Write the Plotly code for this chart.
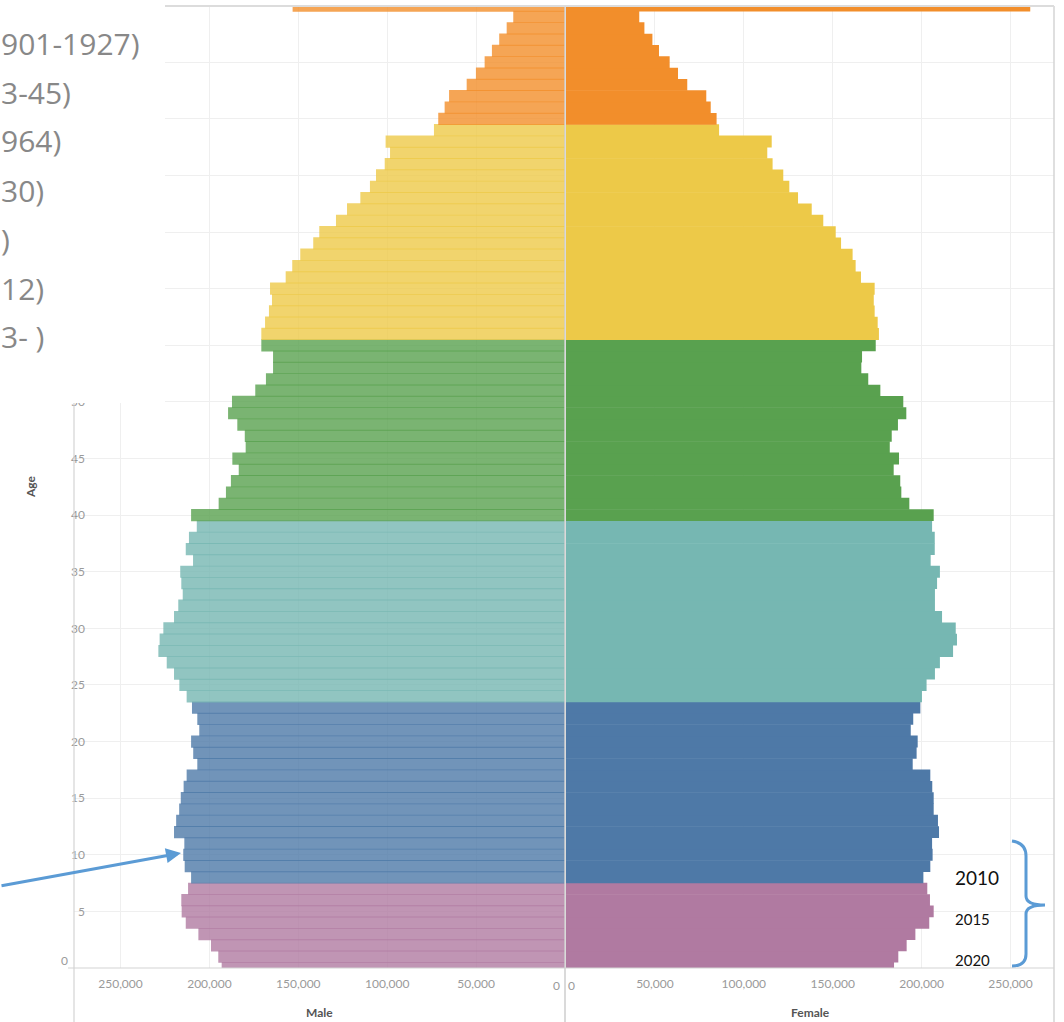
import plotly.graph_objects as go

W, H = 1064, 1022

# ---------------- data ----------------
data_year = 2020
ages = list(range(0, 86))          # 85 = "85+"

male = [193100, 195000, 199100, 206200, 213300, 215600, 215800, 212000, 210300, 213900,
        214700, 214100, 219900, 218700, 217000, 216100, 214500, 212800, 206800, 209100,
        210300, 205700, 206800, 209800, 212800, 216900, 219900, 224000, 228700, 228000,
        225900, 219900, 217500, 215000, 215800, 216400, 209200, 213300, 211500, 207100,
        210300, 194800, 190700, 187900, 183500, 187100, 179600, 180100, 184300, 189500,
        187300, 174200, 168200, 164200, 164200, 170800, 170800, 168700, 166500, 164800,
        165900, 157100, 153400, 148900, 141600, 138200, 128800, 122600, 115100, 109700,
        106300, 101400, 98400, 100900, 73700, 71300, 67700, 65200, 55300, 50100,
        45200, 41100, 37000, 32800, 29100, 153200]

female = [184500, 186900, 191600, 196500, 204300, 206800, 204700, 203200, 201000, 204900,
          206200, 205900, 209800, 209200, 206800, 206800, 206000, 204900, 195000, 197200,
          197800, 193900, 195300, 199300, 200200, 202800, 207500, 210300, 217700, 219900,
          219200, 211500, 207500, 207500, 208700, 210300, 205100, 207400, 207400, 205900,
          206800, 193100, 188600, 188000, 184300, 187300, 182100, 183200, 186700, 191400,
          189700, 176800, 170000, 166100, 166500, 174200, 176000, 175300, 173600, 173100,
          173600, 165900, 162900, 161200, 154700, 151700, 144700, 138200, 130500, 125600,
          122200, 116200, 113200, 115700, 86100, 84700, 81400, 78900, 68200, 63000,
          58300, 52300, 48600, 44100, 41200, 261100]

generations = ["Greatest Generation", "Silent Generation", "Baby Boomers", "Generation X",
               "Millennials", "Generation Z", "Generation Alpha"]
gen_birth_start = [1901, 1928, 1946, 1965, 1981, 1997, 2013]
gen_colors = ["#E15759", "#F28E2B", "#EDC948", "#59A14F", "#76B7B2", "#4E79A7", "#B07AA1"]
# visible (right-hand) part of the overlaid legend, whose left side is cut off
legend_fragments = ["901-1927)", "3-45)", "964)", "30)", ")", "12)", "3- )"]

x_ticks = [50000, 100000, 150000, 200000, 250000]
y_ticks = [5, 10, 15, 20, 25, 30, 35, 40, 45, 50, 55, 60, 65, 70, 75, 80]
y_labels = ["5", "10", "15", "20", "25", "30", "35", "40", "45", "50", "", "", "", "", "", ""]
year_marks = ["2010", "2015", "2020"]

# ---------------- helpers ----------------
def px(x):
    return x / W

def py(y):
    return 1 - y / H

def gen_index(age):
    birth = data_year - age
    idx = 0
    for i, s in enumerate(gen_birth_start):
        if birth >= s:
            idx = i
    return idx

def rgba(hexc, a):
    h = hexc.lstrip("#")
    r, g, b = int(h[0:2], 16), int(h[2:4], 16), int(h[4:6], 16)
    return f"rgba({r},{g},{b},{a})"

female_colors = [gen_colors[gen_index(a)] for a in ages]
male_colors = [rgba(gen_colors[gen_index(a)], 0.8) for a in ages]

FONT = "Lato"
TICK_COLOR = "#9a9a9a"
GRID = "#efefef"

fig = go.Figure()
fig.add_trace(go.Bar(y=ages, x=male, orientation="h", xaxis="x", yaxis="y",
                     marker=dict(color=male_colors, line=dict(width=0)), width=1.08,
                     hoverinfo="x+y"))
fig.add_trace(go.Bar(y=ages, x=female, orientation="h", xaxis="x2", yaxis="y2",
                     marker=dict(color=female_colors, line=dict(width=0)), width=1.05,
                     hoverinfo="x+y"))

pane_top, pane_bot = 6, 968
male_l, male_r = 74, 565
fem_l, fem_r = 566, 1054
px_per_unit = 88.9 / 50000

fig.update_layout(
    width=W, height=H,
    margin=dict(l=0, r=0, t=0, b=0),
    paper_bgcolor="white", plot_bgcolor="white",
    showlegend=False,
    font=dict(family=FONT, size=12, color=TICK_COLOR),
    xaxis=dict(domain=[px(male_l), px(male_r)],
               range=[(male_r - male_l) / px_per_unit, 0],
               tickvals=x_ticks, tickformat=",d", showgrid=True, gridcolor=GRID,
               zeroline=False, showline=False, ticks="", ticklen=0, ticklabelstandoff=7,
               tickfont=dict(family=FONT, size=12, color=TICK_COLOR), anchor="y"),
    xaxis2=dict(domain=[px(fem_l), px(fem_r)],
                range=[0, (fem_r - fem_l) / px_per_unit],
                tickvals=x_ticks, tickformat=",d", showgrid=True, gridcolor=GRID,
                zeroline=False, showline=False, ticks="", ticklen=0, ticklabelstandoff=7,
                tickfont=dict(family=FONT, size=12, color=TICK_COLOR), anchor="y2"),
    yaxis=dict(domain=[py(pane_bot), py(pane_top)], range=[0, 84.97],
               tickvals=y_ticks, ticktext=y_labels, showgrid=True, gridcolor=GRID, zeroline=False,
               showline=False, ticks="", ticklen=0, ticklabelstandoff=-12, anchor="x",
               tickfont=dict(family=FONT, size=12, color=TICK_COLOR)),
    yaxis2=dict(domain=[py(pane_bot), py(pane_top)], matches="y",
                tickvals=y_ticks, showgrid=True, gridcolor=GRID, zeroline=False,
                showline=False, showticklabels=False, ticks="", anchor="x2"),
)

LINE = "#d4d4d4"
shapes = [
    dict(type="line", xref="paper", yref="paper", x0=px(68), x1=px(fem_r), y0=py(pane_bot), y1=py(pane_bot),
         line=dict(color=LINE, width=1.2), layer="above"),
    dict(type="line", xref="paper", yref="paper", x0=px(male_l), x1=px(male_l), y0=py(403), y1=0,
         line=dict(color=LINE, width=1.2), layer="above"),
    dict(type="line", xref="paper", yref="paper", x0=px(565), x1=px(565), y0=py(pane_top), y1=0,
         line=dict(color="rgba(205,205,205,0.95)", width=1.6), layer="above"),
    dict(type="line", xref="paper", yref="paper", x0=px(fem_r), x1=px(fem_r), y0=py(pane_top), y1=0,
         line=dict(color=LINE, width=1.5), layer="above"),
    dict(type="line", xref="paper", yref="paper", x0=0, x1=px(fem_r), y0=py(pane_top), y1=py(pane_top),
         line=dict(color="#dcdcdc", width=1.8), layer="above"),
    # overlaid legend panel (white)
    dict(type="rect", xref="paper", yref="paper", x0=0, x1=px(165), y0=py(403), y1=1,
         fillcolor="white", line=dict(width=0), layer="above"),
]

bp = [(1012, 841), (1026, 843), (1026, 856), (1026, 896), (1026, 905), (1045, 905),
      (1026, 905), (1026, 914), (1026, 954), (1026, 966), (1012, 966)]
path = (f"M {px(bp[0][0])},{py(bp[0][1])} Q {px(bp[1][0])},{py(bp[1][1])} {px(bp[2][0])},{py(bp[2][1])} "
        f"L {px(bp[3][0])},{py(bp[3][1])} Q {px(bp[4][0])},{py(bp[4][1])} {px(bp[5][0])},{py(bp[5][1])} "
        f"Q {px(bp[6][0])},{py(bp[6][1])} {px(bp[7][0])},{py(bp[7][1])} "
        f"L {px(bp[8][0])},{py(bp[8][1])} Q {px(bp[9][0])},{py(bp[9][1])} {px(bp[10][0])},{py(bp[10][1])}")
shapes.append(dict(type="path", xref="paper", yref="paper", path=path,
                   line=dict(color="#5B9BD5", width=3), layer="above"))
fig.update_layout(shapes=shapes)

ann = []
for i, frag in enumerate(legend_fragments):
    ann.append(dict(xref="paper", yref="paper", x=0, y=py(43 + 49 * i),
                    xanchor="left", yanchor="middle", showarrow=False, borderpad=0,
                    text=frag, font=dict(family="Open Sans", size=30, color="#888888")))

ann.append(dict(xref="paper", yref="paper", x=px(562), y=py(985), xanchor="right", yanchor="middle",
                showarrow=False, text="0", font=dict(family=FONT, size=12, color=TICK_COLOR)))
ann.append(dict(xref="paper", yref="paper", x=px(566), y=py(985), xanchor="left", yanchor="middle",
                showarrow=False, text="0", font=dict(family=FONT, size=12, color=TICK_COLOR)))
ann.append(dict(xref="paper", yref="paper", x=px(70), y=py(960), xanchor="right", yanchor="middle",
                showarrow=False, text="0", font=dict(family=FONT, size=12, color=TICK_COLOR)))

TITLE_FONT = dict(family=FONT, size=12, color="#555555", weight="bold")
ann.append(dict(xref="paper", yref="paper", x=px(30), y=py(487), textangle=-90, showarrow=False,
                text="Age", font=TITLE_FONT, xanchor="center", yanchor="middle"))
ann.append(dict(xref="paper", yref="paper", x=px((male_l + male_r) / 2), y=py(1012), showarrow=False,
                text="Male", font=TITLE_FONT, xanchor="center", yanchor="middle"))
ann.append(dict(xref="paper", yref="paper", x=px((fem_l + fem_r) / 2), y=py(1012), showarrow=False,
                text="Female", font=TITLE_FONT, xanchor="center", yanchor="middle"))

ann.append(dict(xref="paper", yref="paper", x=px(181), y=py(853), ax=-200, ay=33,
                axref="pixel", ayref="pixel", text="", showarrow=True,
                arrowhead=2, arrowsize=1, arrowwidth=3, arrowcolor="#5B9BD5"))

year_pos = [(953, 877, 19), (953, 919, 15), (953, 960, 15)]
for t, (x, y, s) in zip(year_marks, year_pos):
    ann.append(dict(xref="paper", yref="paper", x=px(x), y=py(y), xanchor="left", yanchor="middle",
                    showarrow=False, text=t, font=dict(family=FONT, size=s, color="#111111")))

fig.update_layout(annotations=ann)
fig.write_html("out.html", config={"displayModeBar": False},
               post_script="document.body.style.margin='0';document.body.style.overflow='hidden';")
